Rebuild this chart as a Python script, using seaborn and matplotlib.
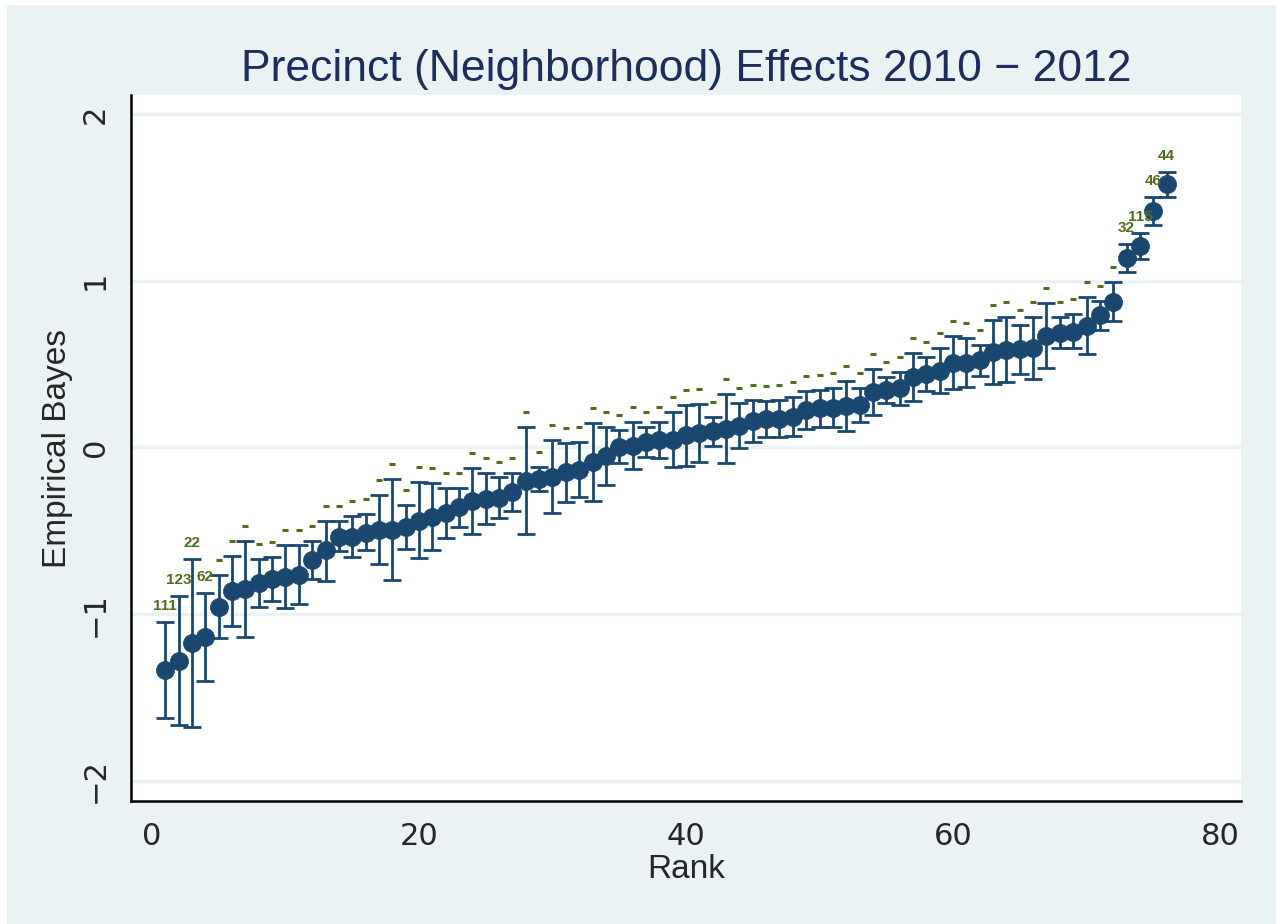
import numpy as np
import matplotlib
matplotlib.use("Agg")
import matplotlib.pyplot as plt
from matplotlib.patches import Rectangle
import seaborn as sns
import pandas as pd

# ---- data ----
rank = list(range(1, 77))
eb = [-1.334, -1.278, -1.174, -1.134, -0.955, -0.859, -0.851, -0.815, -0.791, -0.779,
      -0.767, -0.675, -0.615, -0.535, -0.535, -0.511, -0.495, -0.495, -0.479, -0.439,
      -0.415, -0.395, -0.359, -0.321, -0.309, -0.301, -0.265, -0.199, -0.189, -0.175,
      -0.149, -0.135, -0.087, -0.053, 0.005, 0.009, 0.035, 0.045, 0.045, 0.073,
      0.085, 0.101, 0.113, 0.131, 0.161, 0.169, 0.173, 0.185, 0.225, 0.235,
      0.239, 0.249, 0.253, 0.335, 0.345, 0.355, 0.425, 0.441, 0.459, 0.509,
      0.509, 0.525, 0.571, 0.585, 0.589, 0.595, 0.669, 0.685, 0.695, 0.729,
      0.795, 0.874, 1.135, 1.208, 1.418, 1.578]
upper = [-1.045, -0.889, -0.669, -0.873, -0.767, -0.651, -0.563, -0.671, -0.655, -0.585,
         -0.585, -0.559, -0.439, -0.441, -0.409, -0.401, -0.283, -0.189, -0.345, -0.209,
         -0.215, -0.241, -0.243, -0.125, -0.151, -0.179, -0.151, 0.121, -0.119, 0.043,
         0.029, 0.035, 0.145, 0.125, 0.105, 0.153, 0.125, 0.155, 0.211, 0.255,
         0.259, 0.183, 0.321, 0.265, 0.285, 0.279, 0.285, 0.305, 0.339, 0.345,
         0.357, 0.401, 0.355, 0.471, 0.421, 0.451, 0.569, 0.545, 0.595, 0.669,
         0.657, 0.615, 0.765, 0.781, 0.735, 0.781, 0.868, 0.785, 0.801, 0.904,
         0.879, 0.994, 1.220, 1.285, 1.500, 1.652]
lower = [-1.624, -1.664, -1.674, -1.400, -1.140, -1.072, -1.135, -0.959, -0.921, -0.965,
         -0.941, -0.789, -0.799, -0.621, -0.655, -0.615, -0.701, -0.795, -0.609, -0.665,
         -0.613, -0.541, -0.479, -0.519, -0.461, -0.425, -0.379, -0.519, -0.261, -0.391,
         -0.327, -0.299, -0.319, -0.227, -0.095, -0.131, -0.055, -0.061, -0.117, -0.111,
         -0.087, 0.007, -0.091, -0.001, 0.035, 0.061, 0.061, 0.069, 0.111, 0.125,
         0.121, 0.101, 0.155, 0.195, 0.265, 0.255, 0.281, 0.341, 0.329, 0.351,
         0.361, 0.429, 0.379, 0.395, 0.441, 0.411, 0.475, 0.595, 0.595, 0.559,
         0.703, 0.759, 1.052, 1.130, 1.333, 1.504]
precinct = ["111", "123", "22", "62"] + [""] * 68 + ["32", "115", "46", "44"]

df = pd.DataFrame({"rank": rank, "eb": eb, "lo": lower, "hi": upper, "lab": precinct})

BG = "#eaf2f3"
NAVY = "#1a476f"
GREEN = "#4f6d1c"

sns.set_style("white")
plt.rcParams["font.family"] = ["Liberation Sans", "DejaVu Sans"]

fig = plt.figure(figsize=(12.76, 9.24), dpi=100, facecolor="white")
fig.patches.append(Rectangle((7 / 1276, 0), 1, 1 - 5 / 924, transform=fig.transFigure,
                             facecolor=BG, edgecolor="none", zorder=-10))
ax = fig.add_axes([131 / 1276, 1 - 801 / 924, (1241 - 131) / 1276, (801 - 95) / 924])
ax.set_facecolor("white")

ax.set_xlim(-1.57, 81.57)
ax.set_ylim(-2.12, 2.114)
for yv in [-2, -1, 0, 1, 2]:
    ax.axhline(yv, color=BG, lw=2.5, zorder=0)

ax.errorbar(df["rank"], df["eb"], yerr=[df["eb"] - df["lo"], df["hi"] - df["eb"]],
            fmt="none", ecolor=NAVY, elinewidth=2.0, capsize=6.2, capthick=2.0, zorder=2)
sns.scatterplot(data=df, x="rank", y="eb", ax=ax, color=NAVY, s=170, edgecolor=NAVY,
                linewidth=0.5, zorder=3, legend=False)

# labels above the upper bound
for r, hi, lab in zip(df["rank"], df["hi"], df["lab"]):
    if lab:
        ax.annotate(lab, (r, hi), xytext=(0, 6.5), textcoords="offset points",
                    ha="center", va="bottom", fontsize=11, fontweight="bold",
                    color=GREEN, family=["Liberation Sans", "DejaVu Sans"])
blank = df[df["lab"] == ""]
ax.scatter(blank["rank"], blank["hi"] + 0.09, marker="_", s=16, color=GREEN,
           linewidths=2.2, zorder=3)

ax.set_xticks([0, 20, 40, 60, 80])
ax.set_yticks([-2, -1, 0, 1, 2])
ax.tick_params(axis="both", direction="out", length=9, width=1.4, color="black",
               labelsize=22, pad=6)
for t in ax.get_xticklabels():
    t.set_family("DejaVu Sans")
for t in ax.get_yticklabels():
    t.set_family("DejaVu Sans")
    t.set_rotation(90)
    t.set_va("center")

for s in ["top", "right"]:
    ax.spines[s].set_visible(False)
for s in ["left", "bottom"]:
    ax.spines[s].set_color("black")
    ax.spines[s].set_linewidth(1.8)

ax.set_xlabel("Rank", fontsize=24, labelpad=2)
ax.set_ylabel("Empirical Bayes", fontsize=24, labelpad=6)
ax.set_title("Precinct (Neighborhood) Effects 2010 \u2212 2012", fontsize=32,
             color="#1e2d5c", pad=10)

fig.savefig("out.png", dpi=100, facecolor=fig.get_facecolor())
